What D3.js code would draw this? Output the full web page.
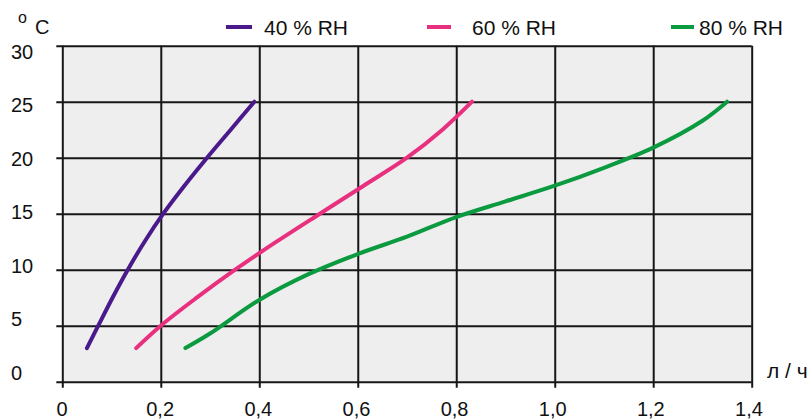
<!DOCTYPE html>
<html>
<head>
<meta charset="utf-8">
<script src="https://cdn.jsdelivr.net/npm/d3@7"></script>
<style>
  body { margin: 0; background: #fff; }
  text { font-family: "Liberation Sans", Arial, sans-serif; fill: #111; }
</style>
</head>
<body>
<div id="chart"></div>
<script>
// Data
const seriesNames = ["40 % RH", "60 % RH", "80 % RH"];
const seriesColors = ["#4a1a8c", "#e9307f", "#0b9a40"];

const rh40 = [[0.05, 3], [0.073, 5], [0.102, 7.5], [0.133, 10], [0.167, 12.5],
  [0.205, 15], [0.248, 17.5], [0.294, 20], [0.342, 22.5], [0.39, 25]];
const rh60 = [[0.15, 3], [0.2, 5], [0.273, 7.5], [0.351, 10], [0.435, 12.5],
  [0.523, 15], [0.612, 17.5], [0.70, 20], [0.772, 22.5], [0.832, 25]];
const rh80 = [[0.25, 3], [0.30, 4.3], [0.40, 7.3], [0.50, 9.6], [0.60, 11.4],
  [0.70, 12.95], [0.80, 14.7], [0.90, 16.1], [1.0, 17.5], [1.1, 19.1],
  [1.2, 20.9], [1.3, 23.3], [1.35, 25]];

const xTicks = [0, 0.2, 0.4, 0.6, 0.8, 1.0, 1.2, 1.4];
const xTickLabels = ["0", "0,2", "0,4", "0,6", "0,8", "1,0", "1,2", "1,4"];
const yTicks = [0, 5, 10, 15, 20, 25, 30];
const yTickLabels = ["0", "5", "10", "15", "20", "25", "30"];

const width = 812, height = 420;
const plot = { left: 62.3, right: 751.7, top: 45.7, bottom: 381.7 };

const svg = d3.select("#chart").append("svg")
  .attr("width", width)
  .attr("height", height);

const x = d3.scaleLinear().domain([0, 1.4]).range([plot.left, plot.right]);
const y = d3.scaleLinear().domain([0, 30]).range([plot.bottom, plot.top]);
// the labels sit a bit inside the grid rows, like in the original
const yLabel = d3.scaleLinear().domain([0, 30]).range([380, 58.5]);
const xLabel = d3.scaleLinear().domain([0, 1.4]).range([62, 749]);

// Plot background
svg.append("rect")
  .attr("x", plot.left)
  .attr("y", plot.top)
  .attr("width", plot.right - plot.left)
  .attr("height", plot.bottom - plot.top)
  .attr("fill", "#eeeeee");

// Grid lines (the ticks stick out 6px on the left and bottom)
const gridY = svg.append("g")
  .attr("transform", `translate(${plot.left - 6},0)`)
  .call(d3.axisLeft(y).tickValues(yTicks).tickSize(-(plot.right - plot.left + 6)).tickFormat(""));
const gridX = svg.append("g")
  .attr("transform", `translate(0,${plot.bottom + 6})`)
  .call(d3.axisBottom(x).tickValues(xTicks).tickSize(-(plot.bottom - plot.top + 6)).tickFormat(""));
[gridX, gridY].forEach((g) => {
  g.select(".domain").remove();
  g.selectAll("line").attr("stroke", "#161616").attr("stroke-width", 2);
});

// Tick labels
svg.append("g").selectAll("text")
  .data(yTicks)
  .join("text")
  .attr("x", 11)
  .attr("y", (d) => yLabel(d))
  .style("font-size", "20px")
  .text((d, i) => yTickLabels[i]);

svg.append("g").selectAll("text")
  .data(xTicks)
  .join("text")
  .attr("x", (d) => xLabel(d))
  .attr("y", 416)
  .attr("text-anchor", "middle")
  .style("font-size", "20px")
  .text((d, i) => xTickLabels[i]);

// Axis units
svg.append("text").attr("x", 18).attr("y", 23).style("font-size", "16px").text("o");
svg.append("text").attr("x", 35).attr("y", 34).style("font-size", "20px").text("C");
svg.append("text").attr("x", 767).attr("y", 378).style("font-size", "21px").text("л / ч");

// Curves
const line = d3.line()
  .x((d) => x(d[0]))
  .y((d) => y(d[1]))
  .curve(d3.curveCatmullRom.alpha(0.5));

[rh40, rh60, rh80].forEach((s, i) => {
  svg.append("path")
    .datum(s)
    .attr("fill", "none")
    .attr("stroke", seriesColors[i])
    .attr("stroke-width", 4)
    .attr("stroke-linecap", "round")
    .attr("d", line);
});

// Legend
const legendLine = [[226, 252], [427, 451], [671, 694]];
const legendText = [264, 472, 699];
seriesNames.forEach((name, i) => {
  svg.append("line")
    .attr("x1", legendLine[i][0])
    .attr("x2", legendLine[i][1])
    .attr("y1", 27)
    .attr("y2", 27)
    .attr("stroke", seriesColors[i])
    .attr("stroke-width", 4);
  svg.append("text")
    .attr("x", legendText[i])
    .attr("y", 35)
    .style("font-size", "21px")
    .text(name);
});
</script>
</body>
</html>
